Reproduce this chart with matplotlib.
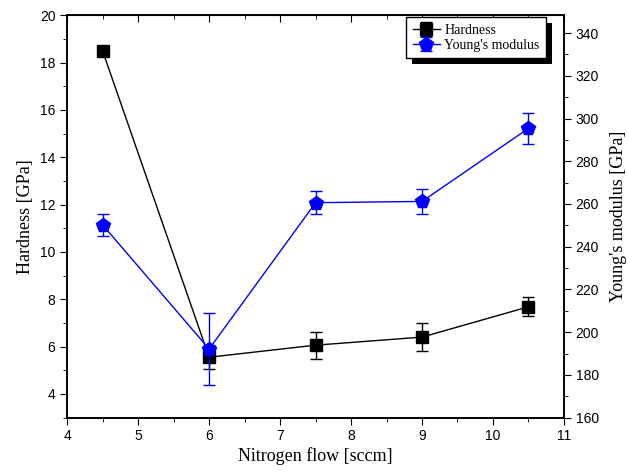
import matplotlib.pyplot as plt
from matplotlib.ticker import MultipleLocator, NullFormatter
from matplotlib.patches import Rectangle
from matplotlib.transforms import IdentityTransform

# nitrogen flow (sccm)
flow = [4.5, 6.0, 7.5, 9.0, 10.5]

hardness = [18.48, 5.55, 6.06, 6.40, 7.68]
hardness_err = [0.2, 0.5, 0.57, 0.6, 0.4]

modulus = [250.2, 192.1, 260.6, 261.2, 295.4]
modulus_err = [5.0, 17.0, 5.5, 6.0, 7.2]

serif = ['Liberation Serif', 'DejaVu Serif']
sans = ['Liberation Sans', 'DejaVu Sans']

plt.rcParams['font.family'] = sans

fig = plt.figure(figsize=(6.28, 4.74), dpi=100)
ax = fig.add_axes([0.107, 0.119, 0.791, 0.849])
ax2 = ax.twinx()

h = ax.errorbar(flow, hardness, yerr=hardness_err, color='black', marker='s',
                markersize=8.5, linewidth=1, capsize=4, elinewidth=1,
                label='Hardness', zorder=3)
m = ax2.errorbar(flow, modulus, yerr=modulus_err, color='blue', marker='p',
                 markersize=10.5, linewidth=1, capsize=4, elinewidth=1,
                 label="Young's modulus", zorder=3)

ax.set_xlim(4, 11)
ax.set_ylim(3, 20)
ax2.set_ylim(160, 348.4)

ax.xaxis.set_major_locator(MultipleLocator(1))
ax.xaxis.set_minor_locator(MultipleLocator(0.5))
ax.yaxis.set_major_locator(MultipleLocator(2))
ax.yaxis.set_minor_locator(MultipleLocator(1))
ax2.yaxis.set_major_locator(MultipleLocator(20))
ax2.yaxis.set_minor_locator(MultipleLocator(10))

ax.tick_params(axis='both', which='both', direction='out', labelsize=10)
ax.tick_params(which='major', length=5)
ax.tick_params(which='minor', length=3)
ax2.tick_params(which='both', direction='out', labelsize=10)
ax2.tick_params(which='major', length=5)
ax2.tick_params(which='minor', length=3)

# top axis: inward ticks, no labels
top = ax.secondary_xaxis('top')
top.xaxis.set_major_locator(MultipleLocator(1))
top.xaxis.set_minor_locator(MultipleLocator(0.5))
top.xaxis.set_major_formatter(NullFormatter())
top.tick_params(which='both', direction='in')
top.tick_params(which='major', length=5)
top.tick_params(which='minor', length=3)

for a in (ax, ax2):
    for s in a.spines.values():
        s.set_linewidth(1.2)

ax.set_xlabel('Nitrogen flow [sccm]', family=serif, fontsize=13, labelpad=3)
ax.set_ylabel('Hardness [GPa]', family=serif, fontsize=13)
ax2.set_ylabel("Young's modulus [GPa]", family=serif, fontsize=13, labelpad=8)

leg = ax2.legend([h, m], ['Hardness', "Young's modulus"], loc='upper right',
                 bbox_to_anchor=(0.968, 1.0), prop={'family': serif, 'size': 10},
                 fancybox=False, edgecolor='black', framealpha=1,
                 handlelength=2, borderpad=0.45, labelspacing=0.15,
                 handletextpad=0.3, borderaxespad=0.15)
leg.get_frame().set_linewidth(1)
leg.set_zorder(6)

# offset shadow behind the legend box
fig.canvas.draw()
bb = leg.get_window_extent()
ax2.add_patch(Rectangle((bb.x0 + 6, bb.y0 - 6), bb.width, bb.height,
                        transform=IdentityTransform(), facecolor='black',
                        edgecolor='none', zorder=5.5, clip_on=False))

fig.savefig('out.png', dpi=100)
